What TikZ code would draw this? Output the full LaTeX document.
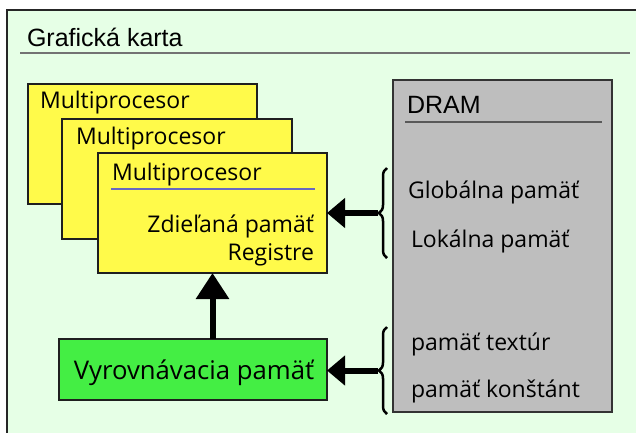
\documentclass[tikz,border=0pt]{standalone}
\usepackage{fontspec}
\setmainfont{Open Sans}
\newfontfamily\arialfont{Liberation Sans}
\newfontfamily\myfont{Open Sans}
\usetikzlibrary{arrows.meta,decorations.pathreplacing}
\definecolor{bg}{HTML}{E6FFE6}
\definecolor{yel}{HTML}{FFFA4A}
\definecolor{grn}{HTML}{44EE44}
\definecolor{gry}{HTML}{BEBEBE}
\definecolor{blu}{HTML}{6868C0}
\begin{document}
\begin{tikzpicture}[x=1pt,y=-1pt,
  every node/.style={inner sep=0pt, outer sep=0pt},
  frame/.style={draw=black!88, line width=2.5pt, anchor=north west},
  ybox/.style={frame, fill=yel, minimum width=229pt, minimum height=120pt},
  mtext/.style={font=\myfont\fontsize{23}{27}\selectfont, anchor=base west},
  ctext/.style={font=\myfont\fontsize{25.7}{30}\selectfont, anchor=base},
  atext/.style={font=\arialfont\fontsize{25}{30}\selectfont, anchor=base west},
  bigarrow/.style={line width=6pt, -{Triangle[length=18pt,width=29pt]}},
  uparrow/.style={line width=6pt, -{Triangle[length=26pt,width=32pt]}},
  brc/.style={decorate, decoration={brace, amplitude=8pt}, line width=2.5pt}
]
\useasboundingbox (0,0) rectangle (636,432);
\fill[white] (0,0) rectangle (636,432);
\begin{scope}
\clip (0,0) rectangle (636,432);
\node[draw=black!85, line width=2pt, fill=bg, anchor=north west, minimum width=660pt, minimum height=450pt] (card) at (7,10) {};
\end{scope}
\node[atext] (title) at (27,46) {Grafická karta};
\draw[black!55, line width=1.5pt] (20,53) -- (630,53);
% yellow multiprocessor boxes
\node[ybox] (mp1) at (28,84) {};
\node[mtext] (mp1t) at (40,108) {Multiprocesor};
\node[ybox, minimum width=230pt] (mp2) at (62,119) {};
\node[mtext] (mp2t) at (76,144) {Multiprocesor};
\node[ybox] (mp3) at (98,153) {};
\node[mtext] (mp3t) at (112,180) {Multiprocesor};
\draw[blu, line width=1.5pt] (111,189) -- (315,189);
\node[mtext, anchor=base east] (shm) at (314,232) {Zdieľaná pamäť};
\node[mtext, anchor=base east] (reg) at (314,260) {Registre};
% green cache box
\node[frame, fill=grn, minimum width=268pt, minimum height=61pt] (cache) at (59,339) {};
\node[ctext] (cachet) at (194,379) {Vyrovnávacia pamäť};
% DRAM
\node[frame, draw=black!80, line width=2pt, fill=gry, minimum width=219pt, minimum height=332pt] (dram) at (393,80) {};
\node[atext] (dramt) at (407,113) {DRAM};
\draw[black!65, line width=1.5pt] (405,122) -- (602,122);
\node[mtext] (glob) at (408,198) {Globálna pamäť};
\node[mtext] (lok) at (411,247) {Lokálna pamäť};
\node[mtext] (tex) at (411,350) {pamäť textúr};
\node[mtext] (kon) at (411,397) {pamäť konštánt};
% braces
\draw[brc] (387,258) -- (387,168);
\draw[brc] (387,414) -- (387,327);
\coordinate (b1) at (378,213);
\coordinate (b2) at (378,370.5);
% arrows
\draw[bigarrow] (b1) -- (b1 -| mp3.east);
\draw[bigarrow] (b2) -- (b2 -| cache.east);
\draw[uparrow] (mp3.south |- cache.north) -- (mp3.south);
\end{tikzpicture}
\end{document}
